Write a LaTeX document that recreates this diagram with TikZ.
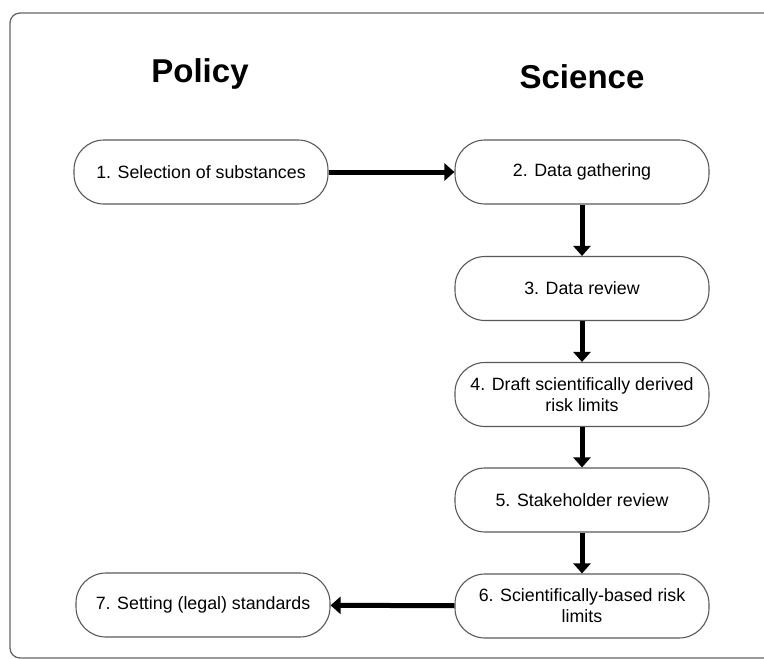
\documentclass[tikz,border=0pt]{standalone}
\usepackage{fontspec}
\setmainfont{Liberation Sans}
\usetikzlibrary{arrows.meta}

\begin{document}
\begin{tikzpicture}[x=1pt,y=-1pt,
  stepbox/.style={draw=black!65,line width=1.1pt,rounded corners=30pt,
    minimum width=254pt,minimum height=64pt,align=center,
    font=\fontsize{17.8}{21}\selectfont},
  title/.style={anchor=base,font=\fontsize{33}{36}\selectfont\bfseries},
  flow/.style={line width=5pt,-{Triangle[length=10pt,width=17pt]}}]
  \useasboundingbox (0,0) rectangle (764,659);
  \clip (0,0) rectangle (764,659);
  % frame
  \draw[black!60,line width=1.3pt,rounded corners=10pt]
    (780,13) -- (10,13) -- (10,658) -- (780,658);
  \node[title] (policy) at (200,82.5) {Policy};
  \node[title] (science) at (582,88) {Science};
  \node[stepbox] (s1) at (201,172) {1. Selection of substances};
  \node[stepbox] (s2) at (582,172) {2. Data gathering};
  \node[stepbox] (s3) at (582,288.5) {3. Data review};
  \node[stepbox] (s4) at (582,394.5) {4. Draft scientifically derived\\risk limits};
  \node[stepbox] (s5) at (582,500) {5. Stakeholder review};
  \node[stepbox] (s6) at (582,606) {6. Scientifically-based risk\\limits};
  \node[stepbox] (s7) at (203,605) {7. Setting (legal) standards};
  \draw[flow] (s1) -- (s2);
  \foreach \a/\b in {2/3,3/4,4/5,5/6}
    \draw[flow] (s\a) -- (s\b);
  \draw[flow] (s6) -- (s7);
\end{tikzpicture}
\end{document}
